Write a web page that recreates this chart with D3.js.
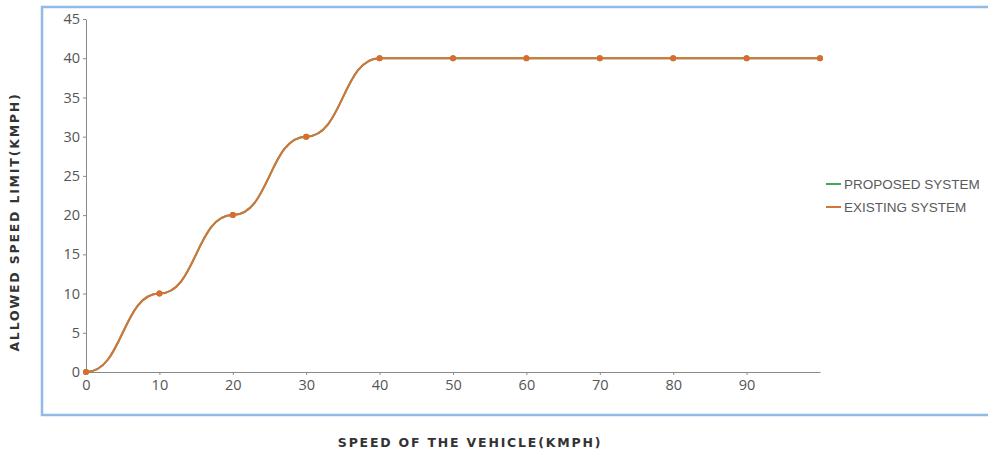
<!DOCTYPE html>
<html>
<head>
<meta charset="utf-8">
<script src="https://cdn.jsdelivr.net/npm/d3@7"></script>
<style>
  body { margin: 0; background: #fff; font-family: "Liberation Sans", Arial, sans-serif; }
  .tick text { fill: #555; font-size: 14.5px; font-family: "Open Sans", sans-serif; }
  .axis path, .axis line { stroke: #8a8a8a; }
  .title { font-weight: bold; font-size: 12.5px; fill: #333; letter-spacing: 1.8px; font-family: "DejaVu Sans", sans-serif; }
  .legend text { font-size: 13.5px; fill: #5a5a5a; font-family: "Liberation Sans", Arial, sans-serif; }
</style>
</head>
<body>
<svg id="chart" width="988" height="456"></svg>
<script>
const speeds = [0, 10, 20, 30, 40, 50, 60, 70, 80, 90, 100];
const proposed = [0, 10, 20, 30, 40, 40, 40, 40, 40, 40, 40];
const existing = [0, 10, 20, 30, 40, 40, 40, 40, 40, 40, 40];
const xTicks = [0, 10, 20, 30, 40, 50, 60, 70, 80, 90];
const yTicks = [0, 5, 10, 15, 20, 25, 30, 35, 40, 45];
const seriesNames = ["PROPOSED SYSTEM", "EXISTING SYSTEM"];
const seriesColors = ["#3fa85a", "#d4743a"];

let svg = d3.select("#chart"),
	margin = { top: 19, right: 168, bottom: 84, left: 86 },
	width = +svg.attr("width") - margin.left - margin.right,
	height = +svg.attr("height") - margin.top - margin.bottom;

// light blue frame round the plot
svg.append("rect")
	.attr("x", 42).attr("y", 7)
	.attr("width", 960).attr("height", 408)
	.attr("fill", "none")
	.attr("stroke", "#8fbbe6")
	.attr("stroke-width", 2.5);

let g = svg.append("g").attr("transform", "translate(" + margin.left + "," + margin.top + ")");

let x = d3.scaleLinear().domain([0, 100]).range([0, width]);
let y = d3.scaleLinear().domain([0, 45]).range([height, 0]);

g.append("g")
	.attr("class", "axis")
	.attr("transform", "translate(0," + height + ")")
	.call(d3.axisBottom(x).tickValues(xTicks).tickSize(3).tickPadding(5).tickSizeOuter(0));

g.append("g")
	.attr("class", "axis")
	.call(d3.axisLeft(y).tickValues(yTicks).tickSize(3).tickPadding(3).tickSizeOuter(0));

let line = d3.line()
	.curve(d3.curveBumpX)
	.x(function (d, i) { return x(speeds[i]); })
	.y(function (d) { return y(d); });

[proposed, existing].forEach(function (vals, k) {
	g.append("path")
		.datum(vals)
		.attr("fill", "none")
		.attr("stroke", seriesColors[k])
		.attr("stroke-width", 2)
		.attr("d", line);

	g.selectAll(".dot" + k)
		.data(vals)
		.enter().append("circle")
		.attr("class", "dot" + k)
		.attr("cx", function (d, i) { return x(speeds[i]); })
		.attr("cy", function (d) { return y(d); })
		.attr("r", 3)
		.attr("fill", k == 1 ? "#e0692c" : seriesColors[k]);
});

// legend
let legend = svg.append("g").attr("class", "legend")
	.attr("transform", "translate(826,184)");
seriesNames.forEach(function (name, i) {
	let row = legend.append("g").attr("transform", "translate(0," + (i * 23) + ")");
	row.append("line")
		.attr("x1", 0).attr("x2", 15)
		.attr("stroke", seriesColors[i])
		.attr("stroke-width", 2);
	row.append("text")
		.attr("x", 18).attr("dy", "0.35em")
		.text(name);
});

// axis titles
svg.append("text")
	.attr("class", "title")
	.attr("x", 470).attr("y", 447)
	.attr("text-anchor", "middle")
	.text("SPEED OF THE VEHICLE(KMPH)");

svg.append("text")
	.attr("class", "title")
	.attr("transform", "translate(19,222) rotate(-90)")
	.attr("text-anchor", "middle")
	.text("ALLOWED SPEED LIMIT(KMPH)");
</script>
</body>
</html>
